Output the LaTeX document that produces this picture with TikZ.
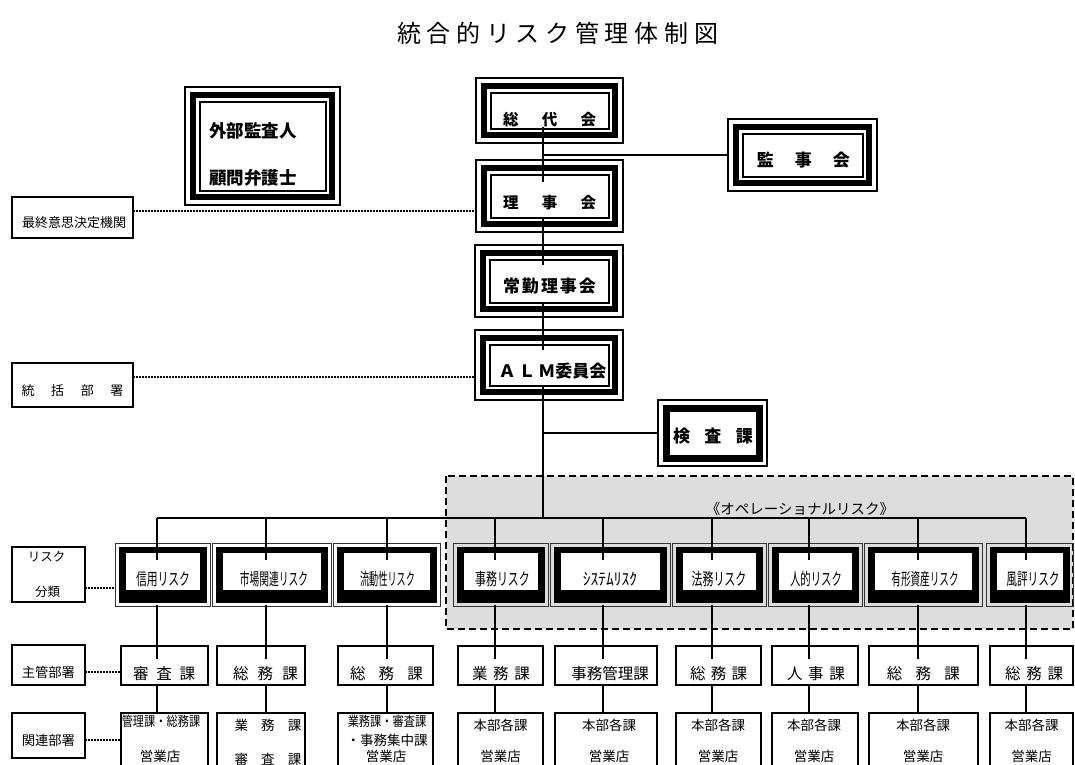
\documentclass[tikz,border=0pt]{standalone}
\usepackage{fontspec}
\usepackage{graphicx}
\setmainfont{Noto Sans CJK JP}
\usetikzlibrary{calc}
\definecolor{opgray}{RGB}{221,221,221}
\newcommand{\fsz}[1]{\fontsize{#1pt}{#1pt}\selectfont}
\newcommand{\sq}[2]{\scalebox{#1}[1]{#2}}
\begin{document}
\begin{tikzpicture}[x=1pt,y=-1pt,
  conn/.style={line width=1.6pt},
  dotl/.style={line width=1.5pt, dash pattern=on 1.5pt off 1.5pt},
  txt/.style={inner sep=0pt},
  pbox/.style={draw, line width=1.7pt, fill=white, inner sep=0pt},
  tribox/.style={draw, line width=1.2pt, fill=white, inner sep=0pt, path picture={
    \draw[line width=6.5pt] ([xshift=8pt,yshift=-8pt]path picture bounding box.north west) rectangle ([xshift=-8pt,yshift=8pt]path picture bounding box.south east);
    \draw[line width=2pt] ([xshift=14.5pt,yshift=-14.5pt]path picture bounding box.north west) rectangle ([xshift=-14.5pt,yshift=14.5pt]path picture bounding box.south east);}},
  riskbox/.style={draw=black!80, line width=1pt, inner sep=0pt, path picture={
    \fill[black] ([xshift=3.5pt,yshift=-3.5pt]path picture bounding box.north west) rectangle ([xshift=-3.5pt,yshift=3pt]path picture bounding box.south east);
    \fill[white] ([xshift=10.5pt,yshift=-10pt]path picture bounding box.north west) rectangle ([xshift=-10.5pt,yshift=16pt]path picture bounding box.south east);}},
  kbox/.style={draw, line width=1.2pt, fill=white, inner sep=0pt, path picture={
    \fill[black] ([xshift=4.5pt,yshift=-4.5pt]path picture bounding box.north west) rectangle ([xshift=-4.5pt,yshift=4.5pt]path picture bounding box.south east);
    \fill[white] ([xshift=11.5pt,yshift=-11.5pt]path picture bounding box.north west) rectangle ([xshift=-11.5pt,yshift=11.5pt]path picture bounding box.south east);}}
]
\useasboundingbox (0,0) rectangle (1075,764);
\clip (0,0) rectangle (1075,764);
\fill[white] (0,0) rectangle (1075,764);

% title
\node[txt, font=\fsz{24}] (title) at (557.5,33) {\makebox[321pt]{統\hfill 合\hfill 的\hfill リ\hfill ス\hfill ク\hfill 管\hfill 理\hfill 体\hfill 制\hfill 図}};

% operational risk area
\draw[fill=opgray, line width=2pt, dash pattern=on 7pt off 4pt] (446,476) rectangle (1073,629);
\node[txt, font=\fsz{14.5}] (opl) at (800,509) {《オペレーショナルリスク》};

% top boxes
\node[tribox, minimum width=155pt, minimum height=118pt] (gaibu) at (262.5,146) {};
\node[txt, anchor=west, font=\fsz{17.5}\bfseries] (gaibu-a) at (209,130.5) {外部監査人};
\node[txt, anchor=west, font=\fsz{17.5}\bfseries] (gaibu-b) at (209,177.5) {顧問弁護士};

\node[tribox, minimum width=147pt, minimum height=65pt] (sodai) at (549.5,110.5) {};
\node[txt, font=\fsz{15.5}\bfseries] (sodai-t) at (549.5,120) {\makebox[93pt]{総\hfill 代\hfill 会}};

\node[tribox, minimum width=147pt, minimum height=72pt] (rijikai) at (549.5,196) {};
\node[txt, font=\fsz{15.5}\bfseries] (rijikai-t) at (549.5,202.5) {\makebox[93pt]{理\hfill 事\hfill 会}};

\node[tribox, minimum width=148pt, minimum height=72pt] (jokin) at (549,281) {};
\node[txt, font=\fsz{17}\bfseries] (jokin-t) at (549.5,286) {\makebox[93pt]{常\hfill 勤\hfill 理\hfill 事\hfill 会}};

\node[tribox, minimum width=148pt, minimum height=70pt] (alm) at (549,365) {};
\node[txt, font=\fsz{17}\bfseries] (alm-t) at (552.5,371.5) {Ａ\hspace{3pt}Ｌ\hspace{3pt}Ｍ委員会};

\node[tribox, minimum width=149pt, minimum height=72pt] (kanji) at (802.5,155) {};
\node[txt, font=\fsz{17}\bfseries] (kanji-t) at (803.3,160) {\makebox[93pt]{監\hfill 事\hfill 会}};

\node[kbox, minimum width=109pt, minimum height=66pt] (kensa) at (712.5,433) {};
\node[txt, font=\fsz{17}\bfseries] (kensa-t) at (713,436.5) {\makebox[80pt]{検\hfill 査\hfill 課}};

% left label boxes
\node[pbox, minimum width=121.3pt, minimum height=41.3pt] (L1) at (72.35,217.35) {};
\node[txt, font=\fsz{13}] (L1-t) at (74,223) {最終意思決定機関};
\node[pbox, minimum width=121.3pt, minimum height=43.7pt] (L2) at (72.35,384.85) {};
\node[txt, font=\fsz{13}] (L2-t) at (72.5,391) {\makebox[102pt]{統\hfill 括\hfill 部\hfill 署}};
\node[pbox, minimum width=73.3pt, minimum height=55pt] (L3) at (48.35,574.2) {};
\node[txt, font=\fsz{12.5}] (L3-a) at (46.5,557) {リスク};
\node[txt, font=\fsz{12.5}] (L3-b) at (47.5,591.7) {分類};
\node[pbox, minimum width=73.3pt, minimum height=40pt] (L4) at (48.35,665) {};
\node[txt, font=\fsz{13.3}] (L4-t) at (48.35,672) {主管部署};
\node[pbox, minimum width=73.3pt, minimum height=45pt] (L5) at (48.35,735.5) {};
\node[txt, font=\fsz{13.3}] (L5-t) at (48.35,740) {関連部署};

% risk boxes
\node[riskbox, minimum width=95pt, minimum height=63pt] (r1) at (162.5,574.5) {};
\node[riskbox, minimum width=119pt, minimum height=63pt] (r2) at (271.5,574.5) {};
\node[riskbox, minimum width=107pt, minimum height=63pt] (r3) at (386.5,574.5) {};
\node[riskbox, minimum width=95pt, minimum height=63pt] (r4) at (500.5,574.5) {};
\node[riskbox, minimum width=120pt, minimum height=63pt] (r5) at (610,574.5) {};
\node[riskbox, minimum width=94pt, minimum height=63pt] (r6) at (719,574.5) {};
\node[riskbox, minimum width=94pt, minimum height=63pt] (r7) at (815,574.5) {};
\node[riskbox, minimum width=118pt, minimum height=63pt] (r8) at (923,574.5) {};
\node[riskbox, minimum width=87pt, minimum height=63pt] (r9) at (1029.5,574.5) {};
\begin{scope}[every node/.style={txt, font=\fsz{17}}]
\node (r1-t) at (163,579) {\sq{0.635}{信用リスク}};
\node (r2-t) at (274,579) {\sq{0.573}{市場関連リスク}};
\node (r3-t) at (387.5,579) {\sq{0.538}{流動性リスク}};
\node (r4-t) at (502.5,579) {\sq{0.644}{事務リスク}};
\node (r5-t) at (610,579) {\sq{0.91}{ｼｽﾃﾑﾘｽｸ}};
\node (r6-t) at (719,579) {\sq{0.644}{法務リスク}};
\node (r7-t) at (816,579) {\sq{0.609}{人的リスク}};
\node (r8-t) at (925,579) {\sq{0.565}{有形資産リスク}};
\node (r9-t) at (1033,579) {\sq{0.626}{風評リスク}};
\end{scope}

% shukan row
\node[pbox, minimum width=87pt, minimum height=39pt] (s1) at (164.5,665.5) {};
\node[pbox, minimum width=88pt, minimum height=39pt] (s2) at (261,665.5) {};
\node[pbox, minimum width=95pt, minimum height=39pt] (s3) at (385.5,665.5) {};
\node[pbox, minimum width=85pt, minimum height=39pt] (s4) at (500.5,665.5) {};
\node[pbox, minimum width=102pt, minimum height=39pt] (s5) at (606,665.5) {};
\node[pbox, minimum width=85pt, minimum height=39pt] (s6) at (718.5,665.5) {};
\node[pbox, minimum width=86pt, minimum height=39pt] (s7) at (815,665.5) {};
\node[pbox, minimum width=109pt, minimum height=39pt] (s8) at (923.5,665.5) {};
\node[pbox, minimum width=83pt, minimum height=39pt] (s9) at (1031.5,665.5) {};
\begin{scope}[every node/.style={txt, font=\fsz{15.5}}]
\node (s1-t) at (164,673.5) {\makebox[62pt]{審\hfill 査\hfill 課}};
\node (s2-t) at (265.5,673.5) {\makebox[65pt]{総\hfill 務\hfill 課}};
\node (s3-t) at (386.5,673.5) {\makebox[73pt]{総\hfill 務\hfill 課}};
\node (s4-t) at (501,673.5) {\makebox[58pt]{業\hfill 務\hfill 課}};
\node (s5-t) at (610,673.5) {\makebox[74pt]{事\hfill 務\hfill 管\hfill 理\hfill 課}};
\node (s6-t) at (718.5,673.5) {\makebox[57pt]{総\hfill 務\hfill 課}};
\node (s7-t) at (816,673.5) {\makebox[58pt]{人\hfill 事\hfill 課}};
\node (s8-t) at (923.3,673.5) {\makebox[73pt]{総\hfill 務\hfill 課}};
\node (s9-t) at (1034,673.5) {\makebox[58pt]{総\hfill 務\hfill 課}};
\end{scope}

% kanren row
\node[pbox, minimum width=87pt, minimum height=77pt] (k1) at (164.5,751.5) {};
\node[pbox, minimum width=88pt, minimum height=77pt] (k2) at (261,751.5) {};
\node[pbox, minimum width=95pt, minimum height=77pt] (k3) at (385.5,751.5) {};
\node[pbox, minimum width=85pt, minimum height=77pt] (k4) at (500.5,751.5) {};
\node[pbox, minimum width=102pt, minimum height=77pt] (k5) at (606,751.5) {};
\node[pbox, minimum width=85pt, minimum height=77pt] (k6) at (718.5,751.5) {};
\node[pbox, minimum width=86pt, minimum height=77pt] (k7) at (815,751.5) {};
\node[pbox, minimum width=109pt, minimum height=77pt] (k8) at (923.5,751.5) {};
\node[pbox, minimum width=83pt, minimum height=77pt] (k9) at (1031.5,751.5) {};
\begin{scope}[every node/.style={txt, font=\fsz{13.5}}]
\node (k1-a) at (161,721.7) {\sq{0.83}{管理課・総務課}};
\node (k1-b) at (160,756.7) {営業店};
\node (k2-a) at (268,725) {\makebox[67pt]{業\hfill 務\hfill 課}};
\node (k2-b) at (268,759) {\makebox[67pt]{審\hfill 査\hfill 課}};
\node (k3-a) at (387,721.7) {\sq{0.83}{業務課・審査課}};
\node (k3-b) at (387,740) {・事務集中課};
\node (k3-c) at (386,756.7) {営業店};
\node (k4-a) at (500.5,725) {本部各課};
\node (k4-b) at (500.5,756) {営業店};
\node (k5-a) at (609,725) {本部各課};
\node (k5-b) at (609,756) {営業店};
\node (k6-a) at (718,725) {本部各課};
\node (k6-b) at (718,756) {営業店};
\node (k7-a) at (814,725) {本部各課};
\node (k7-b) at (814,756) {営業店};
\node (k8-a) at (923,725) {本部各課};
\node (k8-b) at (923,756) {営業店};
\node (k9-a) at (1031.5,725) {本部各課};
\node (k9-b) at (1031.5,756) {営業店};
\end{scope}

% connectors (main spine)
\coordinate (spine) at (543,518);
\draw[conn] ($(spine |- sodai.center)+(0,16.5)$) -- ($(spine |- rijikai.center)+(0,-14)$);
\draw[conn] ($(spine |- rijikai.center)+(0,22)$) -- ($(spine |- jokin.center)+(0,-16)$);
\draw[conn] ($(spine |- jokin.center)+(0,22)$) -- ($(spine |- alm.center)+(0,-15)$);
\draw[conn] ($(spine |- alm.center)+(0,22)$) -- (spine);
\draw[conn] (spine |- kanji.west) -- (kanji.west);
\draw[conn] (spine |- kensa.west) -- (kensa.west);

% bus and branches
\coordinate (b1) at (157,518);
\coordinate (b2) at (266,518);
\coordinate (b3) at (387,518);
\coordinate (b4) at (495,518);
\coordinate (b5) at (603,518);
\coordinate (b6) at (712,518);
\coordinate (b7) at (809,518);
\coordinate (b8) at (918,518);
\coordinate (b9) at (1026,518);
\draw[conn] (b1) -- (b9);
\foreach \i in {1,...,9}{
  \draw[conn] (b\i) -- ($(b\i |- r\i.north)+(0,17)$);
  \draw[conn] ($(b\i |- r\i.south)+(0,-2)$) -- ($(b\i |- s\i.north)+(0,14)$);
  \draw[conn] (b\i |- s\i.south) -- (b\i |- k\i.north);
}

% dotted guides
\coordinate (d1) at (133,211);
\coordinate (d2) at (133,377);
\coordinate (d3) at (85,588);
\coordinate (d4) at (85,672);
\coordinate (d5) at (85,740);
\draw[dotl] (d1) -- (d1 -| rijikai.west);
\draw[dotl] (d2) -- (d2 -| alm.west);
\draw[dotl] (d3) -- (d3 -| r1.west);
\draw[dotl] (d4) -- (d4 -| s1.west);
\draw[dotl] (d5) -- (d5 -| k1.west);
\end{tikzpicture}
\end{document}
